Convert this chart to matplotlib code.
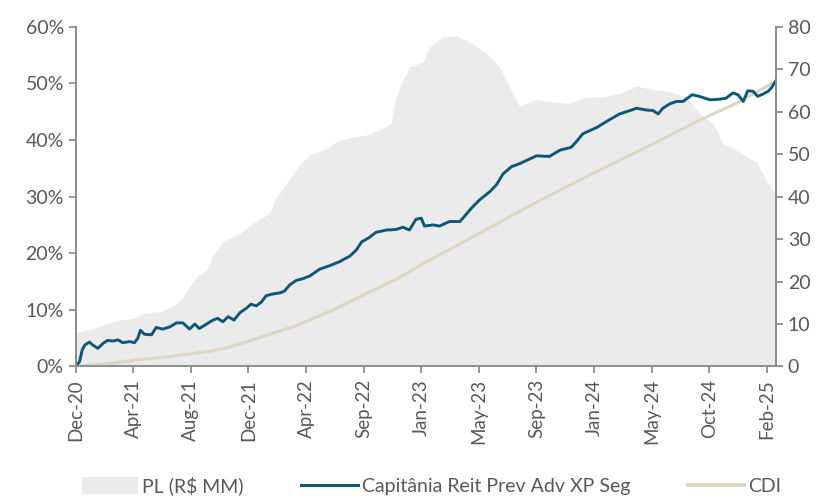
import numpy as np
import matplotlib
matplotlib.use("Agg")
import matplotlib.pyplot as plt
from matplotlib.patches import Patch
from matplotlib.lines import Line2D

plt.rcParams["font.family"] = ["Lato", "DejaVu Sans"]

# eixo x em dias uteis desde o inicio (dez-20)
tick_labels = ["Dec-20", "Apr-21", "Aug-21", "Dec-21", "Apr-22", "Sep-22", "Jan-23",
               "May-23", "Sep-23", "Jan-24", "May-24", "Oct-24", "Feb-25"]
tick_dias = [0, 88, 176, 264, 352, 440, 528, 616, 704, 792, 880, 968, 1056]

# fundo (%)
fundo_dias = [0, 6, 10, 14, 21, 26, 34, 42, 49, 57, 65, 72, 83, 90, 95, 99, 105, 116, 123,
              133, 144, 154, 164, 174, 182, 189, 200, 210, 217, 225, 233, 242, 251, 261,
              268, 276, 284, 291, 301, 312, 319, 327, 337, 347, 358, 373, 388, 403, 419,
              429, 437, 449, 459, 475, 490, 500, 510, 520, 528, 533, 546, 556, 571, 587,
              594, 605, 617, 633, 643, 653, 666, 678, 691, 704, 724, 740, 757, 765, 775,
              796, 816, 831, 847, 857, 872, 882, 890, 897, 908, 918, 928, 942, 953, 969,
              984, 994, 1004, 1012, 1020, 1027, 1035, 1042, 1050, 1058, 1063, 1070]
fundo = [0.0, 0.85, 2.9, 3.8, 4.3, 3.8, 3.2, 4.1, 4.6, 4.5, 4.7, 4.2, 4.4, 4.2, 5.0, 6.4,
         5.7, 5.6, 6.9, 6.6, 7.0, 7.7, 7.7, 6.6, 7.5, 6.7, 7.5, 8.2, 8.5, 7.9, 8.8, 8.2,
         9.5, 10.3, 11.0, 10.7, 11.4, 12.5, 12.8, 13.0, 13.3, 14.4, 15.2, 15.5, 16.0, 17.2,
         17.8, 18.5, 19.5, 20.6, 22.0, 22.8, 23.7, 24.1, 24.2, 24.6, 24.1, 26.0, 26.2, 24.8,
         25.0, 24.8, 25.6, 25.6, 26.5, 28.0, 29.4, 30.9, 32.1, 34.0, 35.3, 35.8, 36.5, 37.2,
         37.1, 38.2, 38.7, 39.7, 41.1, 42.2, 43.6, 44.6, 45.2, 45.6, 45.3, 45.2, 44.6, 45.6,
         46.4, 46.8, 46.8, 48.0, 47.7, 47.1, 47.2, 47.4, 48.3, 48.0, 46.8, 48.7, 48.6, 47.7,
         48.1, 48.6, 49.2, 50.5]

# CDI acumulado (%)
cdi_dias = [0, 50, 93, 140, 174, 210, 235, 286, 337, 388, 439, 490, 536, 612, 694, 780,
            882, 948, 1015, 1070]
cdi = [0.0, 0.5, 1.15, 1.7, 2.2, 2.8, 3.4, 5.3, 7.2, 9.7, 12.6, 15.4, 18.5, 23.2, 28.4,
       33.5, 39.3, 43.2, 46.8, 50.4]

# PL (R$ MM)
pl_dias = [0, 6, 26, 42, 62, 88, 103, 128, 149, 164, 184, 200, 210, 225, 251, 271, 296,
           304, 322, 342, 358, 383, 398, 424, 444, 465, 482, 487, 495, 510, 531, 541, 561,
           582, 602, 628, 648, 663, 678, 704, 729, 755, 775, 806, 831, 857, 882, 908, 933,
           953, 974, 989, 1015, 1030, 1040, 1055, 1065, 1070]
pl = [7.9, 8.2, 8.8, 9.8, 10.8, 11.3, 12.5, 12.9, 14.2, 16.4, 21.1, 22.7, 26.2, 29.4, 31.3,
      33.8, 36.0, 39.2, 43.1, 47.4, 49.8, 51.3, 52.9, 54.1, 54.5, 55.8, 57.2, 61.9, 65.8,
      70.5, 71.7, 75.2, 77.6, 77.8, 76.4, 73.7, 70.5, 65.8, 61.3, 62.9, 62.3, 61.9, 63.3,
      63.5, 64.3, 66.0, 65.2, 64.7, 63.5, 59.6, 57.2, 52.5, 50.5, 49.0, 48.2, 43.9, 41.5,
      41.1]

cor_pl = "#ebebeb"
cor_fundo = "#0e5877"
cor_cdi = "#ddd6c1"
cor_eixo = "#8f8f8f"
cor_txt = "#595959"

fig = plt.figure(figsize=(8.22, 4.97), dpi=100)
ax = fig.add_axes([0.092, 0.2626, 0.852, 0.6836])
ax2 = ax.twinx()
ax.set_zorder(ax2.get_zorder() + 1)
ax.patch.set_visible(False)

ax2.fill_between(pl_dias, pl, 0, color=cor_pl, lw=0)
ax.plot(cdi_dias, cdi, color=cor_cdi, lw=2.2)
ax.plot(fundo_dias, fundo, color=cor_fundo, lw=2.1)

ax.set_xlim(0, 1070)
ax.set_ylim(0, 60)
ax2.set_ylim(0, 80)
ax.set_yticks(np.arange(0, 61, 10))
ax.set_yticklabels([f"{v}%" for v in range(0, 61, 10)])
ax2.set_yticks(np.arange(0, 81, 10))
ax.set_xticks(tick_dias)
ax.set_xticklabels(tick_labels, rotation=90)

for a in (ax, ax2):
    a.spines["top"].set_visible(False)
    for s in ("left", "right", "bottom"):
        a.spines[s].set_color(cor_eixo)
        a.spines[s].set_linewidth(1.3)
    a.tick_params(colors=cor_eixo, labelcolor=cor_txt, labelsize=14, length=5, width=1.3)
ax.tick_params(axis="x", labelsize=13.5, pad=4)

handles = [Patch(facecolor=cor_pl, edgecolor="none"),
           Line2D([], [], color=cor_fundo, lw=2.2),
           Line2D([], [], color=cor_cdi, lw=2.8)]
labels = ["PL (R$ MM)", "Capitânia Reit Prev Adv XP Seg", "CDI"]
leg = fig.legend(handles, labels, loc="lower left", bbox_to_anchor=(0.09, -0.012, 0.87, 0.06),
                 ncol=3, mode="expand", frameon=False, fontsize=14, handlelength=2.9,
                 handleheight=1.0, handletextpad=0.2, borderaxespad=0)
for t in leg.get_texts():
    t.set_color(cor_txt)

fig.savefig("out.png", dpi=100)
